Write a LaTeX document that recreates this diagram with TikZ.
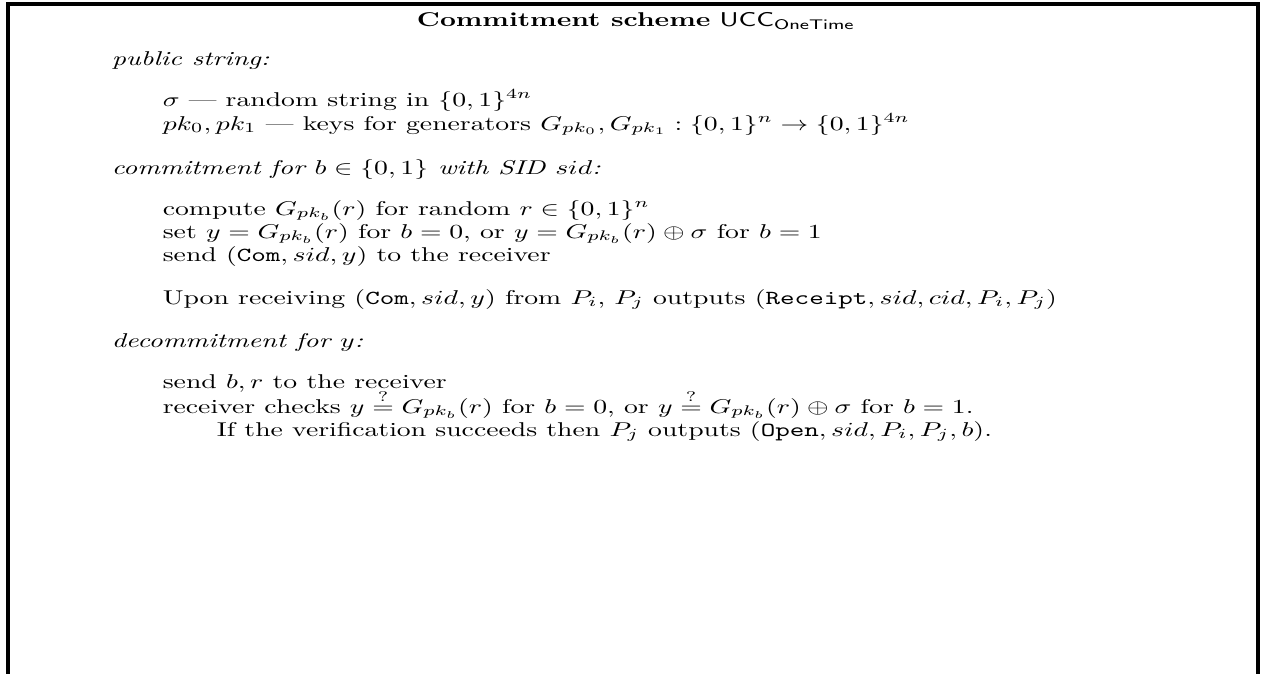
\documentclass[tikz,border=0pt]{standalone}
\usepackage{amssymb}
\usepackage{graphicx}
\usepackage{tikz}

% text lines are set a bit flatter than normal
\newcommand{\squeezed}[1]{\scalebox{1}[0.72]{#1}}

\tikzset{
  heading/.style={anchor=base west, font=\itshape},
  entry/.style={anchor=base west},
}

\begin{document}
\begin{tikzpicture}[x=0.361pt, y=-0.361pt]
        \useasboundingbox (0,0) rectangle (1268,674);
        % frame, left open at the bottom
        \draw[line width=1.1pt] (8,674) -- (8,4) -- (1258,4) -- (1258,674);

        \node[anchor=base] (title) at (636,27) {\squeezed{\textbf{Commitment scheme} $\mathsf{UCC}_{\mathsf{OneTime}}$}};

        \node[heading] (pub) at (102,65) {\squeezed{public string:}};
        \node[entry] (sigma) at (153,106) {\squeezed{$\sigma$ --- random string in $\{0,1\}^{4n}$}};
        \node[entry] (keys) at (153,130) {\squeezed{$pk_0, pk_1$ --- keys for generators $G_{pk_0}, G_{pk_1} : \{0,1\}^n \rightarrow \{0,1\}^{4n}$}};

        \node[heading] (com) at (102,174) {\squeezed{commitment for $b \in \{0,1\}$ with SID $sid$:}};
        \node[entry] (comp) at (153,215) {\squeezed{compute $G_{pk_b}(r)$ for random $r \in \{0,1\}^n$}};
        \node[entry] (sety) at (153,238) {\squeezed{set $y = G_{pk_b}(r)$ for $b=0$, or $y = G_{pk_b}(r) \oplus \sigma$ for $b=1$}};
        \node[entry] (send) at (153,261) {\squeezed{send $(\texttt{Com}, sid, y)$ to the receiver}};
        \node[entry] (upon) at (153,304) {\squeezed{Upon receiving $(\texttt{Com}, sid, y)$ from $P_i$, $P_j$ outputs $(\texttt{Receipt}, sid, cid, P_i, P_j)$}};

        \node[heading] (dec) at (102,347) {\squeezed{decommitment for $y$:}};
        \node[entry] (sendbr) at (153,388) {\squeezed{send $b, r$ to the receiver}};
        \node[entry] (check) at (153,413) {\squeezed{receiver checks $y \stackrel{?}{=} G_{pk_b}(r)$ for $b=0$, or $y \stackrel{?}{=} G_{pk_b}(r) \oplus \sigma$ for $b=1$.}};
        \node[entry] (open) at (207,436) {\squeezed{If the verification succeeds then $P_j$ outputs $(\texttt{Open}, sid, P_i, P_j, b)$.}};
\end{tikzpicture}
\end{document}
